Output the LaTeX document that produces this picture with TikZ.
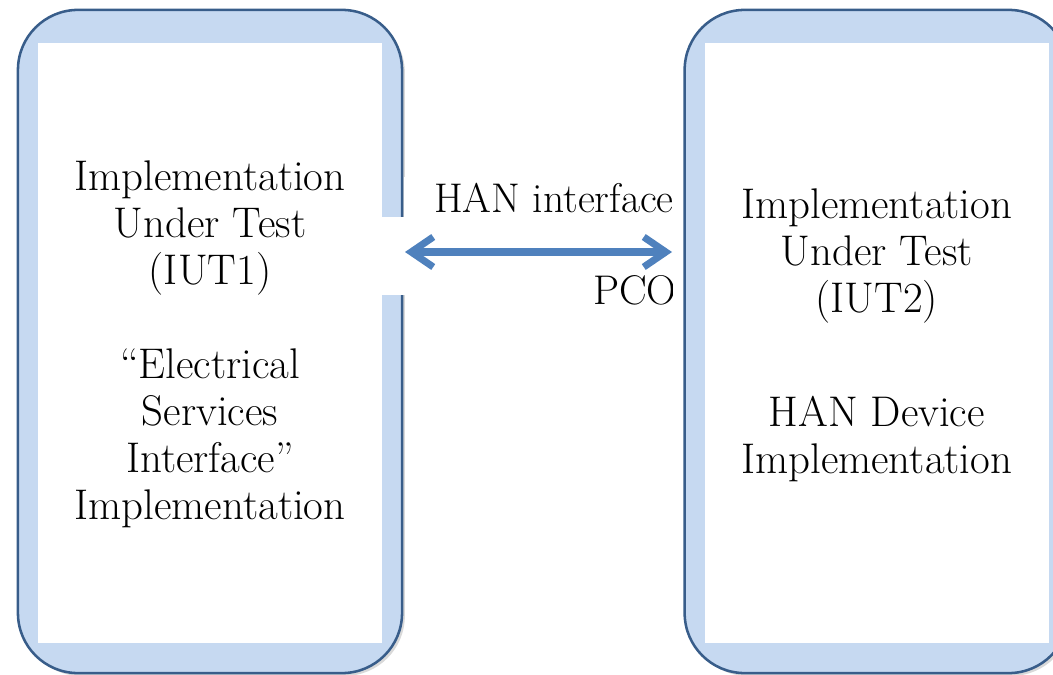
\documentclass[tikz,border=0pt]{standalone}
\usetikzlibrary{positioning,arrows.meta,shadows}

\definecolor{bandblue}{HTML}{C6D9F1}
\definecolor{edgeblue}{HTML}{385D8A}
\definecolor{arrowblue}{HTML}{4F81BD}

\tikzstyle{iutframe} = [rectangle, rounded corners=1.5cm, minimum width=9.6cm, minimum height=16.575cm, draw=edgeblue, line width=1.8pt, fill=bandblue, drop shadow={opacity=0.3, shadow xshift=2pt, shadow yshift=-2pt}]
\tikzstyle{iutpanel} = [rectangle, minimum width=8.6cm, minimum height=15cm, fill=white, inner sep=0pt]
\tikzstyle{iuttext} = [align=center, inner sep=0pt, anchor=north, font=\fontsize{30.5}{33.4}\selectfont]
\tikzstyle{hanlabel} = [inner sep=0pt, anchor=base east, font=\fontsize{29.5}{33.4}\selectfont]
\tikzstyle{arrow} = [arrowblue, line width=5pt, {Straight Barb[length=0.55cm,width=0.75cm]}-{Straight Barb[length=0.55cm,width=0.75cm]}]

\begin{document}
\begin{tikzpicture}[x=0.025cm, y=-0.025cm]
	\useasboundingbox (0,0) rectangle (1053,675);
	% Place nodes
	\node [iutframe] (IUTone) at (210,341.5) {};
	\node [iutpanel, yshift=-0.04cm] (IUTonePanel) at (IUTone.center) {};
	\fill [white] (404,177) rectangle (672,217);
	\fill [white] (382,217) rectangle (672,295);
	\node [iutframe, right=7.0cm of IUTone] (IUTtwo) {};
	\node [iutpanel, yshift=-0.04cm] (IUTtwoPanel) at (IUTtwo.center) {};
	\node [iuttext, below=3.8cm of IUTone.north, anchor=north] (IUToneText) {Implementation\\Under Test\\(IUT1)\\[33.4pt]``Electrical\\Services\\Interface''\\Implementation};
	\node [iuttext, below=4.5cm of IUTtwo.north, anchor=north] (IUTtwoText) {Implementation\\Under Test\\(IUT2)\\[47.5pt]HAN Device\\Implementation};
	\begin{scope}
		\clip (382,170) rectangle (672,320);
		\node [hanlabel] (HANinterface) at (674,213) {HAN interface};
		\node [hanlabel] (PCO) at (677,305) {PCO};
	\end{scope}
	\coordinate (PCOleft) at (405,252);
	\coordinate (PCOright) at (672,252);
	% Draw edges
	\draw [arrow] (PCOleft) -- (PCOright);
\end{tikzpicture}
\end{document}
